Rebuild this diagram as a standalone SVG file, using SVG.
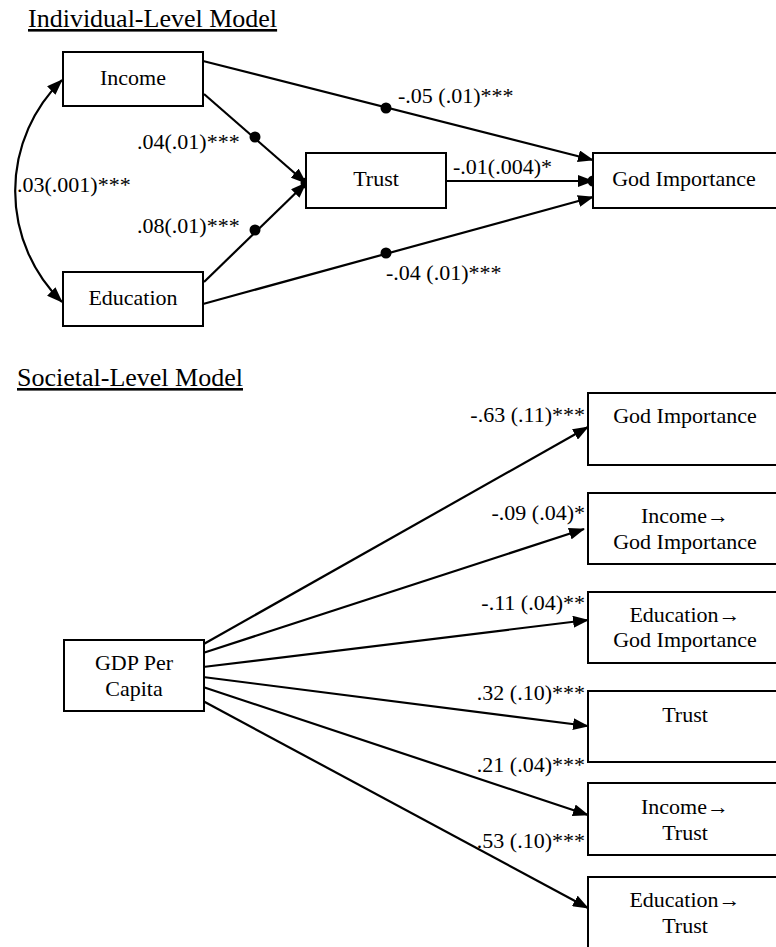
<svg xmlns="http://www.w3.org/2000/svg" width="776" height="947" viewBox="0 0 776 947" font-family="Liberation Serif, DejaVu Serif, serif" font-size="22">
<style>
.title{font-size:26px;text-decoration:underline}
.box{fill:#fff;stroke:#000;stroke-width:2}
.c{text-anchor:middle}
.e{text-anchor:end}
.ln{fill:none;stroke:#000;stroke-width:2.2}
.arr{marker-end:url(#ah)}
</style>
<defs>
<marker id="ah" markerUnits="userSpaceOnUse" markerWidth="16" markerHeight="12" refX="15" refY="6" orient="auto-start-reverse" viewBox="0 0 16 12">
<path d="M0,0 L16,6 L0,12 z" fill="#000"/>
</marker>
</defs>
<text class="title" x="28" y="27">Individual-Level Model</text>
<text class="title" x="17" y="386">Societal-Level Model</text>

<g id="connectors">
<path class="ln" d="M62,80 A155,155 0 0 0 62,302" marker-start="url(#ah)" marker-end="url(#ah)"/>
<line class="ln arr" x1="203" y1="61" x2="593" y2="160"/>
<line class="ln arr" x1="203" y1="304" x2="593" y2="197"/>
<line class="ln arr" x1="446" y1="181" x2="593" y2="181"/>
<line class="ln arr" x1="204" y1="94" x2="306" y2="183"/>
<line class="ln arr" x1="204" y1="282" x2="306" y2="183"/>
<circle cx="386" cy="108" r="5.5"/>
<circle cx="386" cy="253" r="5.5"/>
<circle cx="593" cy="181" r="5.5"/>
<circle cx="255" cy="137" r="5.5"/>
<circle cx="255" cy="230" r="5.5"/>
<circle cx="306" cy="183" r="5.5"/>
<text x="17" y="192">.03(.001)***</text>
<text x="137" y="149">.04(.01)***</text>
<text x="137" y="233">.08(.01)***</text>
<text x="398" y="103">-.05 (.01)***</text>
<text x="453" y="174">-.01(.004)*</text>
<text x="386" y="280">-.04 (.01)***</text>

<line class="ln arr" x1="202" y1="645" x2="588" y2="427"/>
<line class="ln arr" x1="203" y1="653" x2="584" y2="529"/>
<line class="ln arr" x1="203" y1="667" x2="588" y2="620"/>
<line class="ln arr" x1="203" y1="677" x2="588" y2="726"/>
<line class="ln arr" x1="203" y1="687" x2="588" y2="815"/>
<line class="ln arr" x1="203" y1="701" x2="588" y2="908"/>
<text class="e" x="585" y="422">-.63 (.11)***</text>
<text class="e" x="585" y="520">-.09 (.04)*</text>
<text class="e" x="585" y="610">-.11 (.04)**</text>
<text class="e" x="585" y="700">.32 (.10)***</text>
<text class="e" x="585" y="772">.21 (.04)***</text>
<text class="e" x="585" y="848">.53 (.10)***</text>
</g>

<g id="income"><rect class="box" x="63" y="52" width="140" height="54"/><text class="c" x="133" y="85">Income</text></g>
<g id="education"><rect class="box" x="63" y="272" width="140" height="54"/><text class="c" x="133" y="305">Education</text></g>
<g id="trust"><rect class="box" x="306" y="153" width="140" height="55"/><text class="c" x="376" y="186">Trust</text></g>
<g id="god"><rect class="box" x="593" y="153" width="190" height="55"/><text class="c" x="684" y="186">God Importance</text></g>

<g id="gdp"><rect class="box" x="64" y="640" width="140" height="71"/><text class="c" x="134" y="670">GDP Per</text><text class="c" x="134" y="696">Capita</text></g>
<g id="s-god"><rect class="box" x="588" y="393" width="195" height="72"/><text class="c" x="685" y="423">God Importance</text></g>
<g id="s-income-god"><rect class="box" x="588" y="493" width="195" height="71"/><text class="c" x="685" y="523">Income→</text><text class="c" x="685" y="549">God Importance</text></g>
<g id="s-edu-god"><rect class="box" x="588" y="592" width="195" height="71"/><text class="c" x="685" y="622">Education→</text><text class="c" x="685" y="647">God Importance</text></g>
<g id="s-trust"><rect class="box" x="588" y="691" width="195" height="71"/><text class="c" x="685" y="722">Trust</text></g>
<g id="s-income-trust"><rect class="box" x="588" y="783" width="195" height="72"/><text class="c" x="685" y="814">Income→</text><text class="c" x="685" y="840">Trust</text></g>
<g id="s-edu-trust"><rect class="box" x="588" y="877" width="195" height="80"/><text class="c" x="685" y="907">Education→</text><text class="c" x="685" y="933">Trust</text></g>
</svg>
